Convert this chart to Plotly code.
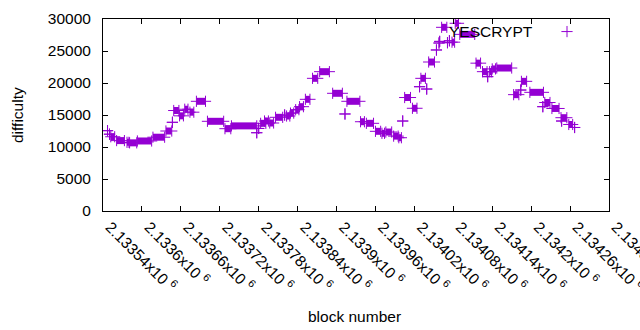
import plotly.graph_objects as go

# runs of blocks with (roughly) constant difficulty: first block, last block, difficulty
run_start = [2133547, 2133550, 2133552, 2133561, 2133577, 2133581, 2133593, 2133617,
             2133637, 2133647, 2133649, 2133658, 2133666, 2133674, 2133684, 2133701,
             2133728, 2133738, 2133777, 2133780, 2133783, 2133789, 2133797, 2133806,
             2133820, 2133823, 2133829, 2133837, 2133843, 2133852, 2133863, 2133874,
             2133894, 2133913, 2133916, 2133937, 2133946, 2133960, 2133970, 2133976,
             2133988, 2133996, 2134002, 2134005, 2134017, 2134028, 2134030, 2134039,
             2134042, 2134054, 2134058, 2134059, 2134062, 2134071, 2134074, 2134078,
             2134083, 2134090, 2134115, 2134125, 2134133, 2134136, 2134140, 2134147,
             2134173, 2134184, 2134185, 2134198, 2134218, 2134221, 2134232, 2134246,
             2134247, 2134258, 2134267]
run_end = [2133547, 2133550, 2133558, 2133573, 2133580, 2133592, 2133615, 2133635,
           2133646, 2133647, 2133657, 2133664, 2133671, 2133680, 2133698, 2133726,
           2133737, 2133777, 2133777, 2133780, 2133791, 2133795, 2133803, 2133817,
           2133820, 2133828, 2133834, 2133842, 2133849, 2133859, 2133871, 2133889,
           2133909, 2133913, 2133936, 2133943, 2133957, 2133968, 2133974, 2133985,
           2133995, 2134000, 2134002, 2134014, 2134024, 2134028, 2134037, 2134039,
           2134051, 2134054, 2134058, 2134059, 2134070, 2134071, 2134074, 2134082,
           2134088, 2134113, 2134122, 2134132, 2134133, 2134139, 2134145, 2134170,
           2134181, 2134184, 2134193, 2134219, 2134218, 2134229, 2134243, 2134255,
           2134247, 2134264, 2134267]
run_difficulty = [12550, 12000, 11600, 11000, 10730, 10650, 10940, 11530,
                  12500, 13860, 15700, 14870, 15900, 15440, 17140, 14015,
                  12860, 13300, 12230, 12900, 13700, 14060, 13750, 14640,
                  15000, 14840, 15300, 15830, 16300, 17450, 20730, 21770,
                  18390, 15160, 17140, 13950, 13700, 12450, 12140, 12340,
                  11700, 11450, 14060, 17730, 16050, 19420, 20730, 19060,
                  23280, 25160, 26250, 26500, 28700, 26300, 26600, 26380,
                  29330, 27600, 23100, 21770, 20990, 21770, 22200, 22340,
                  18180, 18900, 20260, 18540, 16300, 16950, 16020, 14580,
                  14060, 13520, 13050]

x_ticks = list(range(2133540, 2134321, 60))
x_ticktext = [f"{v / 1e6:g}x10 <sup>6</sup>" for v in x_ticks]
y_ticks = [0, 5000, 10000, 15000, 20000, 25000, 30000]

COLOR = "#9400D3"
FONT = "Liberation Sans, Arial, sans-serif"

line_x, line_y, mark_x, mark_y = [], [], [], []
for s, e, d in zip(run_start, run_end, run_difficulty):
    line_x += [s, e, None]
    line_y += [d, d, None]
    mark_x += [s, e]
    mark_y += [d, d]

fig = go.Figure()
fig.add_trace(go.Scatter(x=line_x, y=line_y, mode="lines",
                         line=dict(color=COLOR, width=7), showlegend=False,
                         hoverinfo="skip"))
fig.add_trace(go.Scatter(x=mark_x, y=mark_y, mode="markers", name=" ",
                         marker=dict(symbol="cross-thin", size=8, color=COLOR,
                                     line=dict(color=COLOR, width=1)),
                         showlegend=True))

fig.update_layout(
    template="none",
    width=640, height=330,
    margin=dict(l=103, r=31, t=19, b=119, autoexpand=False),
    paper_bgcolor="white", plot_bgcolor="white",
    font=dict(family=FONT, size=15.5, color="black"),
    showlegend=True,
    legend=dict(x=(547 - 103) / 506, y=(211 - 32) / 192, xanchor="left",
                yanchor="middle", bgcolor="rgba(0,0,0,0)", font=dict(size=15.5)),
    annotations=[
        dict(text="YESCRYPT", x=(535 - 103) / 506, xref="paper",
             y=(211 - 31) / 192, yref="paper",
             showarrow=False, xanchor="right", yanchor="middle"),
        dict(text="block number", x=(354 - 103) / 506, xref="paper",
             y=(211 - 316) / 192, yref="paper",
             showarrow=False, xanchor="center", yanchor="middle"),
        dict(text="difficulty", x=(17 - 103) / 506, xref="paper", y=0.5, yref="paper",
             showarrow=False, textangle=-90, xanchor="center", yanchor="middle"),
    ],
)

fig.update_xaxes(range=[2133540, 2134320], tickvals=x_ticks, ticktext=x_ticktext,
                 tickangle=45, ticks="inside", ticklen=5, tickcolor="black",
                 showline=True, linecolor="black", linewidth=1, mirror="allticks",
                 showgrid=False, zeroline=False, automargin=False,
                 ticklabeloverflow="allow", ticklabelshift=7)
fig.update_yaxes(range=[0, 30000], tickvals=y_ticks, tickformat="d",
                 ticks="inside", ticklen=5,
                 tickcolor="black", showline=True, linecolor="black", linewidth=1,
                 mirror="allticks", showgrid=False, zeroline=False,
                 ticklabelstandoff=8, automargin=False)

fig.write_html("out.html", config={"displayModeBar": False},
               post_script="document.body.style.margin='0';")
